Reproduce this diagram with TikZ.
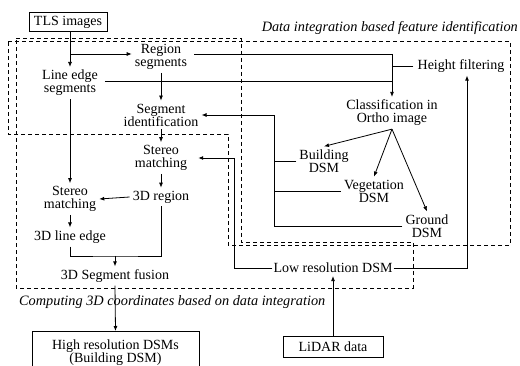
\documentclass[tikz,border=0pt]{standalone}
\usepackage{fontspec}
\setmainfont{Liberation Serif}
\usetikzlibrary{arrows.meta}
\begin{document}
\begin{tikzpicture}[x=1pt,y=-1pt,
  lbl/.style={font=\fontsize{14}{13}\selectfont, align=center, inner sep=3pt},
  boxed/.style={lbl, draw, line width=0.8pt},
  conn/.style={line width=0.8pt},
  arr/.style={conn, -{Latex[length=5pt,width=4pt]}},
  dsh/.style={line width=0.9pt, dash pattern=on 4pt off 3pt},
  ital/.style={font=\fontsize{14.3}{13}\selectfont\itshape, inner sep=0pt}]
\fill[white] (0,0) rectangle (520,366);
\useasboundingbox (0,0) rectangle (520,366);
% dashed regions
\draw[dsh] (8,41) -- (510,41) -- (510,245) -- (228,245) -- (228,134) -- (8,134) -- cycle;
\draw[dsh] (16,38) -- (241,38) -- (241,242) -- (413,242) -- (413,288) -- (16,288) -- cycle;
\node[ital, anchor=east] (labA) at (518,28) {Data integration based feature identification};
\node[ital, anchor=west] (labB) at (19,302) {Computing 3D coordinates based on data integration};
% nodes
\node[boxed, minimum width=78pt, minimum height=19pt] (tls) at (68,22) {TLS images};
\node[lbl] (reg) at (161,57) {Region\\segments};
\node[lbl] (line) at (70,83) {Line edge\\segments};
\node[lbl] (segid) at (161,115) {Segment\\identification};
\node[lbl, inner xsep=11pt] (stm1) at (161,158) {Stereo\\matching};
\node[lbl] (r3d) at (161,197) {3D region};
\node[lbl] (stm2) at (70,199) {Stereo\\matching};
\node[lbl] (le3d) at (70,237) {3D line edge};
\node[lbl] (fus) at (115,276) {3D Segment fusion};
\node[boxed, minimum width=167pt, minimum height=42pt, anchor=north] (hr) at (115.5,331) {High resolution DSMs\\(Building DSM)};
\node[lbl, inner xsep=4pt] (hf) at (461,66) {Height filtering};
\node[lbl] (cls) at (392,113) {Classification in\\Ortho image};
\node[lbl] (bld) at (324,161) {Building\\DSM};
\node[lbl] (veg) at (374,191) {Vegetation\\DSM};
\node[lbl] (gnd) at (427,226) {Ground\\DSM};
\node[lbl, inner xsep=1pt] (low) at (333,268) {Low resolution DSM};
\node[boxed, minimum width=100pt, minimum height=21pt] (lidar) at (333,346.5) {LiDAR data};
% coordinates
\coordinate (b1) at (70,54);
\coordinate (c1) at (392,54);
\coordinate (c2) at (392,81);
\coordinate (j) at (115,256);
\coordinate (v) at (274,115);
\coordinate (k) at (234,268);
\coordinate (u) at (467,268);
% connectors
\draw[arr] (tls.south -| line.north) -- (line.north);
\draw[arr] (b1) -- (reg.west |- b1);
\draw[arr] (reg.south) -- (segid.north);
\draw[arr] (segid.south) -- (stm1.north);
\draw[arr] (line.south) -- (stm2.north);
\draw[arr] (stm1.south) -- (r3d.north);
\draw[arr] (r3d.west) -- (stm2.east);
\draw[arr] (stm2.south) -- (le3d.north);
\draw[conn] (le3d.south) |- (j) -| (r3d.south);
\draw[arr] (j) -- (fus.north);
\draw[arr] (fus.south) -- (hr.north);
\draw[conn] ([xshift=4pt]reg.east |- c1) -- (c1);
\draw[conn] ([xshift=4pt]line.east |- c2) -- (c2);
\draw[conn] (hf.west) -- (hf.west -| c1);
\draw[arr] (c1) -- (cls.north);
\draw[arr] (cls.south) -- (bld.north);
\draw[arr] (cls.south) -- (veg.north);
\draw[arr] (cls.south) -- (gnd.north);
\draw[arr] (gnd.west) -| (v) -- (segid.east |- v);
\draw[conn] (bld.west) -- (bld.west -| v);
\draw[conn] (veg.west) -- (veg.west -| v);
\draw[arr] (low.west) -- (k) |- (stm1.east);
\draw[arr] (low.east) -- (u) -- (u |- hf.south);
\draw[arr] (lidar.north) -- (low.south);
\end{tikzpicture}
\end{document}
